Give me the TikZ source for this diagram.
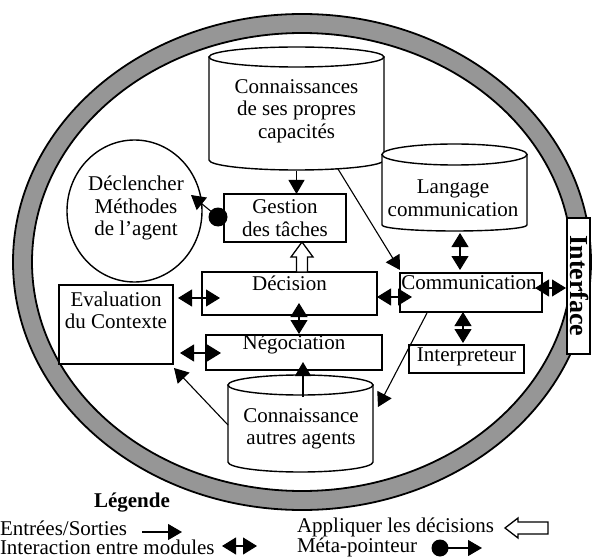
\documentclass[tikz,border=0pt]{standalone}
\usepackage{fontspec}
\setmainfont{Liberation Serif}
\usetikzlibrary{arrows.meta,calc,shapes.geometric}
\definecolor{ringgray}{RGB}{150,150,150}
% cylinder outline: #1 left, #2 right, #3 top-ellipse centre y, #4 side bottom y, #5 top ry, #6 bottom ry
\newcommand{\mycyl}[6]{%
  \draw[cylst] (#1,#3) -- (#1,#4)
    .. controls (#1,{#4+0.552*#6}) and ({(#1+#2)/2-0.552*(#2-#1)/2},{#4+#6}) .. ({(#1+#2)/2},{#4+#6})
    .. controls ({(#1+#2)/2+0.552*(#2-#1)/2},{#4+#6}) and (#2,{#4+0.552*#6}) .. (#2,#4)
    -- (#2,#3) -- cycle;
  \draw[cylst] ({(#1+#2)/2},#3) ellipse [x radius={(#2-#1)/2}, y radius=#5];
}
\begin{document}
\begin{tikzpicture}[x=1pt,y=-1pt,
  every node/.style={font=\fontsize{21}{22.5}\selectfont, inner sep=0pt, outer sep=0pt},
  box/.style={draw, fill=white, line width=1.4pt, rectangle},
  cylst/.style={draw, fill=white, line width=1.4pt},
  txt/.style={align=center},
  io/.style={line width=1.1pt, -{Triangle[length=14pt,width=16pt]}},
  bi/.style={line width=1.1pt, {Triangle[length=14pt,width=17pt]}-{Triangle[length=14pt,width=17pt]}},
  hollow/.style={draw, fill=white, line width=1.3pt, line join=miter},
  bold/.style={font=\fontsize{21}{22.5}\selectfont\bfseries}
]
\useasboundingbox (0,0) rectangle (592,559);

% ring
\fill[ringgray, even odd rule] (302,262) ellipse [x radius=289, y radius=248]
                               (302,262) ellipse [x radius=270, y radius=229];
\draw[line width=1.8pt] (302,262) ellipse [x radius=289, y radius=248];
\draw[line width=1.8pt] (302,262) ellipse [x radius=270, y radius=229];

% cylinders
\mycyl{209}{384}{57}{160}{10}{10}
\mycyl{382}{527}{154.5}{225}{10.5}{6}
\mycyl{228}{373}{385}{462}{10}{10}

\node[minimum width=175, minimum height=103] (cyl1) at (296.5,108.5) {};
\node[txt] (cyl1t) at (296.5,111) {Connaissances\\de ses propres\\capacités};
\node[minimum width=145, minimum height=70.5] (cyl2) at (454.5,189.75) {};
\node[txt] (cyl2t) at (453,198) {Langage\\communication};
\node[minimum width=145, minimum height=77] (cyl3) at (300.5,423.5) {};
\node[txt] (cyl3t) at (301,429) {Connaissance\\autres agents};

% circle
\node[draw, ellipse, fill=white, line width=1.4pt, minimum width=135, minimum height=142, txt]
  (dcl) at (134.5,211) {};
\node[txt] (dclt) at (136,208) {Déclencher\\Méthodes\\de l’agent};

% boxes
\node[box, txt, minimum width=122, minimum height=48] (ges) at (285,218) {Gestion\\des tâches};
\node[box, minimum width=175, minimum height=43] (dec) at (289.5,293.5) {};
\node (dect) at ($(dec.north)+(0,11)$) {Décision};
\node[box, minimum width=176, minimum height=35] (neg) at (294,352.5) {};
\node (negt) at ($(neg.north)+(0,9.5)$) {Négociation};
\node[box, minimum width=142, minimum height=39] (com) at (471,292.5) {};
\node (comt) at ($(com.north)+(-2,10)$) {Communication};
\node[box, minimum width=115, minimum height=28] (int) at (466.5,359) {};
\node (intt) at ($(int.center)+(0,-2)$) {Interpreteur};
\node[box, minimum width=114, minimum height=79] (eva) at (116,324.5) {};
\node[txt] (evat) at ($(eva.north)+(0,25.5)$) {Evaluation\\du Contexte};
\node[box, minimum width=23, minimum height=136] (itf) at (578.5,286) {};
\node[rotate=-90, font=\fontsize{26}{28}\selectfont\bfseries] (itft) at ($(itf.center)+(1,0)$) {Interface};

% connectors
\draw[io] ($(cyl1.south)+(0,11)$) -- (cyl1.south |- ges.north);
\coordinate (mdot) at ($(ges.west)+(-6,-1)$);
\coordinate (mtip) at ($(dcl.center)+(56.5,-16)$);
\fill (mdot) circle [radius=9.5];
\draw[io] (mdot) -- (mtip);

\coordinate (hb) at ($(dec.north)+(12.5,0)$);
\coordinate (ht) at (hb |- ges.south);
\draw[hollow] ($(hb)+(-5.5,0)$) -- ($(ht)+(-5.5,15)$) -- ($(ht)+(-11,15)$) -- (ht)
   -- ($(ht)+(11,15)$) -- ($(ht)+(5.5,15)$) -- ($(hb)+(5.5,0)$) -- cycle;

\draw[bi] ($(dec.east)+(0,3.5)$) -- ($(com.west)+(12,4.5)$);
\draw[bi] ($(eva.east)+(5,-26.5)$) -- ($(dec.west)+(18,4.5)$);
\draw[bi] ($(eva.east)+(7,28.5)$) -- ($(neg.west)+(15,0.5)$);
\draw[bi] ($(dec.south)+(9.5,-12)$) -- ($(neg.north)+(5,-1)$);
\draw[io] ($(cyl3.north)+(2.5,12)$) -- ($(neg.south)+(9,-8)$);
\draw[io] ($(cyl3.west)+(0,1.5)$) -- ($(eva.south east)+(1,4)$);
\draw[io] ($(cyl1.south)+(41.5,9)$) -- ($(com.north west)+(0,-3)$);
\draw[io] ($(com.south)+(-44,1)$) -- ($(cyl3.east)+(5,-16.5)$);
\draw[bi] ($(cyl2.south)+(5.5,8)$) -- ($(com.north)+(-11,-3)$);
\draw[bi] ($(com.south)+(-8,0)$) -- ($(int.north)+(-3.5,-2)$);
\draw[bi] ($(itf.west)+(-32,2)$) -- ($(itf.west)+(-1,2)$);

% legend
\node[bold] (leg) at (132,503) {Légende};
\node[anchor=west] (l1) at (0,528) {Entrées/Sorties};
\node[anchor=west] (l2) at (0,547) {Interaction entre modules};
\node[anchor=west] (l3) at (297,527) {Appliquer les décisions};
\node[anchor=west] (l4) at (297,547) {Méta-pointeur};

\coordinate (e1a) at (142,532);
\coordinate (e1b) at (182,532);
\draw[io] (e1a) -- (e1b);
\coordinate (e2a) at (222,546);
\coordinate (e2b) at (257,546);
\draw[bi] (e2a) -- (e2b);
\coordinate (e3t) at (505,528);
\draw[hollow] (e3t) -- ($(e3t)+(13,-10)$) -- ($(e3t)+(13,-6)$) -- ($(e3t)+(43,-6)$)
  -- ($(e3t)+(43,6)$) -- ($(e3t)+(13,6)$) -- ($(e3t)+(13,10)$) -- cycle;
\coordinate (e4d) at (440,548);
\coordinate (e4t) at (482,548);
\fill (e4d) circle [radius=8.5];
\draw[io] (e4d) -- (e4t);
\end{tikzpicture}
\end{document}
